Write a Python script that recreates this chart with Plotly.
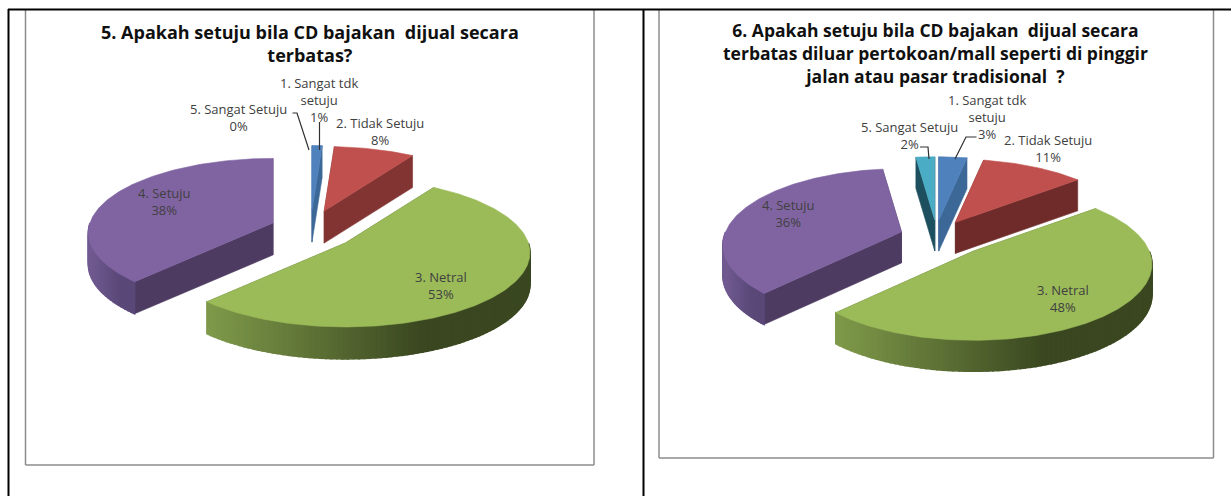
import math
import plotly.graph_objects as go

# ---- data ----
categories = ["1. Sangat tdk<br>setuju", "2. Tidak Setuju", "3. Netral", "4. Setuju", "5. Sangat Setuju"]
values_5 = [1, 8, 53, 38, 0]
values_6 = [3, 11, 48, 36, 2]
title_5 = "5. Apakah setuju bila CD bajakan  dijual secara<br>terbatas?"
title_6 = ("6. Apakah setuju bila CD bajakan  dijual secara<br>"
           "terbatas diluar pertokoan/mall seperti di pinggir<br>"
           "jalan atau pasar tradisional  ?")

# ---- style ----
TOP = ["#4f81bd", "#c0504d", "#9bbb59", "#8064a2", "#4bacc6"]
WALL_5 = ["#3c6898", "#823432", "#5a6e34", "#4d3b62", "#1d4f5e"]
WALL_6 = ["#3c6898", "#6f2b2a", "#5a6e34", "#4d3b62", "#1d4f5e"]
ARC_LIGHT = ["#3c6898", "#7f3331", "#7f9a4a", "#705a90", "#1d4f5e"]
ARC_DARK = ["#3c6898", "#7f3331", "#3a4720", "#5a4878", "#1d4f5e"]
W, H = 1231, 496
FONT = "Open Sans"
LABEL_COLOR = "#404040"

charts = [
    dict(values=values_5, cx=310.6, cy=230.5, rx=183, ry=73, p=0.13, ex=44, ey=20.4, depth=32,
         pull_x=[1, 1, 1, 0.92, 1], pull_y=[1, 1, 1, 1, 1], wall=WALL_5,
         title=title_5, title_xy=(310, 43), title_size=18,
         label_xy=[(319, 100), (380, 131), (441, 285), (164, 201), (238, 117)],
         leaders=[[(319.5, 122), (319.5, 150)], [(292.5, 113), (297, 113), (309, 150)]],
         frame=(25.5, 594, 465)),
    dict(values=values_6, cx=935, cy=237.3, rx=176, ry=74, p=0.17, ex=40, ey=17.3, depth=31,
         pull_x=[1, 1, 1.4, 0.88, 0.1], pull_y=[1, 1, 1.1, 1, 1], wall=WALL_6,
         title=title_6, title_xy=(935, 53), title_size=17.5,
         label_xy=[(987, 117), (1048, 148), (1063, 298), (788, 213), (909, 135)],
         leaders=[[(955, 159), (966, 137), (976.5, 137)], [(920, 147), (928, 147), (929, 159)]],
         frame=(659, 1213.5, 458)),
]


def mix(a, b, t):
    ca = [int(a[i:i + 2], 16) for i in (1, 3, 5)]
    cb = [int(b[i:i + 2], 16) for i in (1, 3, 5)]
    return "#%02x%02x%02x" % tuple(round(x + (y - x) * t) for x, y in zip(ca, cb))


fig = go.Figure()


def poly(xs, ys, color, lw=0.6):
    fig.add_trace(go.Scatter(x=xs, y=ys, mode="lines", fill="toself", fillcolor=color,
                             line=dict(color=color, width=lw), hoverinfo="skip", showlegend=False))


def draw_pie(c):
    total = sum(c["values"])
    starts, a = [], 0.0
    for v in c["values"]:
        starts.append(a)
        a += 360.0 * v / total

    def rim(theta, ox, oy):
        t = math.radians(theta)
        s = 1.0 / (1.0 + c["p"] * math.cos(t))
        return ox + c["rx"] * math.sin(t) * s, oy - c["ry"] * math.cos(t) * s

    for i, v in enumerate(c["values"]):
        if v == 0:
            continue
        a0, a1 = starts[i], starts[i] + 360.0 * v / total
        mid = math.radians((a0 + a1) / 2)
        ox = c["cx"] + c["ex"] * c["pull_x"][i] * math.sin(mid)
        oy = c["cy"] - c["ey"] * c["pull_y"][i] * math.cos(mid)
        d = c["depth"]
        # straight cut walls
        for th in (a0, a1):
            rx_, ry_ = rim(th, ox, oy)
            poly([ox, rx_, rx_, ox, ox], [oy, ry_, ry_ + d, oy + d, oy], c["wall"][i])
        # curved outer wall, shaded in narrow strips
        lo, hi = max(a0, 90.0), min(a1, 270.0)
        n = max(1, int((hi - lo) / 1.5)) if hi > lo else 0
        xl = rim(min(hi, 270), ox, oy)[0]
        xr = rim(max(lo, 90), ox, oy)[0]
        for k in range(n):
            t0 = lo + (hi - lo) * k / n
            t1 = lo + (hi - lo) * (k + 1) / n
            x0, y0 = rim(t0, ox, oy)
            x1, y1 = rim(t1, ox, oy)
            f = min(1.0, max(0.0, ((x0 + x1) / 2 - xl) / max(1.0, xr - xl) * 1.5))
            poly([x0, x1, x1, x0, x0], [y0, y1, y1 + d, y0 + d, y0], mix(ARC_LIGHT[i], ARC_DARK[i], f), lw=1.5)
        # top face
        steps = max(2, int(a1 - a0))
        pts = [rim(a0 + (a1 - a0) * k / steps, ox, oy) for k in range(steps + 1)]
        poly([ox] + [p[0] for p in pts] + [ox], [oy] + [p[1] for p in pts] + [oy], TOP[i])

    # leader lines
    for L in c["leaders"]:
        fig.add_trace(go.Scatter(x=[p[0] for p in L], y=[p[1] for p in L], mode="lines",
                                 line=dict(color="#303030", width=1.2), hoverinfo="skip", showlegend=False))

    # data labels
    for i, v in enumerate(c["values"]):
        x, y = c["label_xy"][i]
        fig.add_annotation(x=x, y=y, text=f"{categories[i]}<br>{v}%", showarrow=False,
                           font=dict(family=FONT, size=13, color=LABEL_COLOR), align="center")

    # chart title
    fig.add_annotation(x=c["title_xy"][0], y=c["title_xy"][1], text=f"<b>{c['title']}</b>", showarrow=False,
                       font=dict(family=FONT, size=c["title_size"], color="#101010"), align="center")

    # chart frame
    l, r, b = c["frame"]
    for x0, y0, x1, y1 in [(l, 10, l, b), (r, 10, r, b), (l, b, r, b)]:
        fig.add_shape(type="line", x0=x0, y0=y0, x1=x1, y1=y1, line=dict(color="#8c8c8c", width=1.5), layer="below")


for chart in charts:
    draw_pie(chart)

# surrounding table rules
for x0, y0, x1, y1 in [(8, 9.5, W, 9.5), (8.5, 9, 8.5, H), (643.5, 9, 643.5, H)]:
    fig.add_shape(type="line", x0=x0, y0=y0, x1=x1, y1=y1, line=dict(color="#000000", width=2))

fig.update_layout(
    width=W, height=H, margin=dict(l=0, r=0, t=0, b=0),
    paper_bgcolor="white", plot_bgcolor="white", showlegend=False,
    xaxis=dict(range=[0, W], visible=False, fixedrange=True),
    yaxis=dict(range=[H, 0], visible=False, fixedrange=True),
)
fig.write_html("out.html", config=dict(displayModeBar=False),
               post_script="document.body.style.margin='0';document.body.style.overflow='hidden';")
